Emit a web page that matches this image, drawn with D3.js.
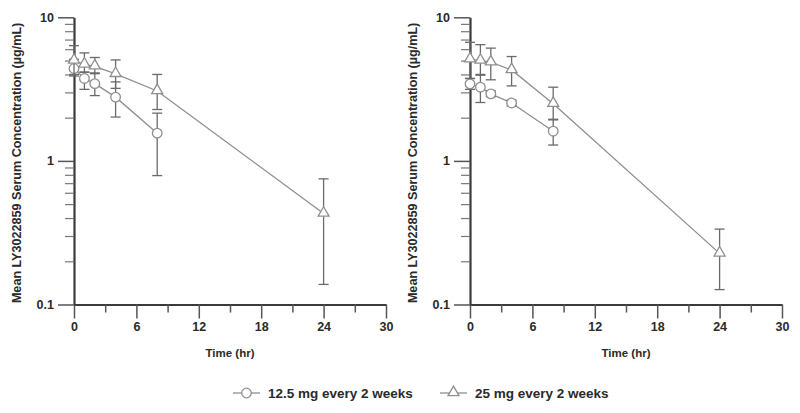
<!DOCTYPE html>
<html>
<head>
<meta charset="utf-8">
<script src="https://cdn.jsdelivr.net/npm/d3@7"></script>
<style>
  html, body { margin: 0; padding: 0; background: #fff; }
  svg { display: block; }
  text { font-family: "Liberation Sans", Arial, sans-serif; }
</style>
</head>
<body>
<svg id="chart" width="800" height="413"></svg>
<script>
// ---- Data ----
const times = [0, 1, 2, 4, 8, 24];
const seriesNames = ["12.5 mg every 2 weeks", "25 mg every 2 weeks"];
const panelNames = ["left", "right"];

// Left panel
const leftLowMean  = [4.4, 3.75, 3.45, 2.78, 1.56];
const leftLowLo    = [3.9, 3.15, 2.85, 2.02, 0.79];
const leftLowHi    = [5.1, 4.15, 4.05, 3.55, 2.15];
const leftHighMean = [5.0, 4.7, 4.56, 4.04, 3.07, 0.43];
const leftHighLo   = [4.0, 4.15, 4.1, 3.2, 2.28, 0.138];
const leftHighHi   = [6.35, 5.65, 5.25, 5.05, 4.0, 0.75];

// Right panel
const rightLowMean  = [3.44, 3.26, 2.93, 2.53, 1.61];
const rightLowLo    = [3.15, 2.55, 2.8, 2.42, 1.29];
const rightLowHi    = [3.75, 4.0, 3.08, 2.65, 1.93];
const rightHighMean = [5.1, 5.0, 4.87, 4.3, 2.5, 0.227];
const rightHighLo   = [3.75, 3.95, 3.67, 3.33, 1.95, 0.127];
const rightHighHi   = [6.7, 6.45, 6.1, 5.33, 3.26, 0.335];

const xMajorTicks = [0, 6, 12, 18, 24, 30];
const xMinorTicks = [3, 9, 15, 21, 27];
const yMajorTicks = [0.1, 1, 10];
const yMinorTicks = [0.2,0.3,0.4,0.5,0.6,0.7,0.8,0.9,2,3,4,5,6,7,8,9];
const xTitle = "Time (hr)";
const yTitle = "Mean LY3022859 Serum Concentration (\u00b5g/mL)";

function build(mean, lo, hi) {
  return mean.map((m, i) => ({ t: times[i], m, lo: lo[i], hi: hi[i] }));
}
const panels = [
  { x0: 74,  x1: 386, ylab: 17,
    low: build(leftLowMean, leftLowLo, leftLowHi),
    high: build(leftHighMean, leftHighLo, leftHighHi) },
  { x0: 470, x1: 782, ylab: 413,
    low: build(rightLowMean, rightLowLo, rightLowHi),
    high: build(rightHighMean, rightHighLo, rightHighHi) }
];

const svg = d3.select("#chart");
const yTop = 17.3, yBot = 304.5;
const lineCol = "#8f8f8f", errCol = "#6a6a6a", axisCol = "#3a3a3a", textCol = "#2a2a2a";

const triPath = d3.symbol().type(d3.symbolTriangle).size(52)();

function drawMarker(g, kind, x, y) {
  if (kind === "circle") {
    g.append("circle").attr("cx", x).attr("cy", y).attr("r", 4.8)
      .attr("fill", "#fff").attr("stroke", lineCol).attr("stroke-width", 1.3);
  } else {
    g.append("path").attr("d", triPath).attr("transform", `translate(${x},${y - 0.5})`)
      .attr("fill", "#fff").attr("stroke", lineCol).attr("stroke-width", 1.3);
  }
}

panels.forEach(p => {
  const x = d3.scaleLinear().domain([0, 30]).range([p.x0, p.x1]);
  const y = d3.scaleLog().domain([0.1, 10]).range([yBot, yTop]);
  const g = svg.append("g");

  // x axis: major
  const xa = g.append("g").attr("transform", `translate(0,${yBot})`)
    .call(d3.axisBottom(x).tickValues(xMajorTicks).tickSize(14).tickSizeOuter(0).tickPadding(4).tickFormat(d3.format("d")));
  xa.select(".domain").attr("stroke", axisCol).attr("stroke-width", 2);
  xa.selectAll(".tick line").attr("stroke", "#555").attr("stroke-width", 1.5);
  xa.selectAll(".tick text").attr("fill", textCol).attr("font-size", 12.5).attr("font-weight", "bold");
  // x axis: minor
  const xm = g.append("g").attr("transform", `translate(0,${yBot})`)
    .call(d3.axisBottom(x).tickValues(xMinorTicks).tickSize(8).tickFormat(""));
  xm.select(".domain").remove();
  xm.selectAll(".tick line").attr("stroke", "#555").attr("stroke-width", 1.5);

  // y axis: major
  const ya = g.append("g").attr("transform", `translate(${p.x0},0)`)
    .call(d3.axisLeft(y).tickValues(yMajorTicks).tickSize(16).tickSizeOuter(0).tickPadding(4)
      .tickFormat(d => d >= 1 ? d3.format("d")(d) : d3.format(".1f")(d)));
  ya.select(".domain").attr("stroke", axisCol).attr("stroke-width", 2.2);
  ya.selectAll(".tick line").attr("stroke", "#555").attr("stroke-width", 1.5);
  ya.selectAll(".tick text").attr("fill", textCol).attr("font-size", 12.5).attr("font-weight", "bold");
  // y axis: minor
  const ym = g.append("g").attr("transform", `translate(${p.x0},0)`)
    .call(d3.axisLeft(y).tickValues(yMinorTicks).tickSize(9).tickFormat(""));
  ym.select(".domain").remove();
  ym.selectAll(".tick line").attr("stroke", "#777").attr("stroke-width", 1.2);

  // titles
  g.append("text").attr("x", (p.x0 + p.x1) / 2).attr("y", 357).attr("text-anchor", "middle")
    .attr("fill", textCol).attr("font-size", 11.5).attr("font-weight", "bold").text(xTitle);
  g.append("text").attr("transform", `translate(${p.ylab},${(yTop + yBot) / 2 + 2}) rotate(-90)`)
    .attr("text-anchor", "middle").attr("dominant-baseline", "central")
    .attr("fill", textCol).attr("font-size", 12.6).attr("font-weight", "bold").text(yTitle);

  const line = d3.line().x(d => x(d.t)).y(d => y(d.m));

  [["low", "circle"], ["high", "triangle"]].forEach(([key, kind]) => {
    const data = p[key];
    g.append("path").datum(data).attr("d", line).attr("fill", "none")
      .attr("stroke", lineCol).attr("stroke-width", 1.3);
    // error bars
    data.forEach(d => {
      const cx = x(d.t);
      g.append("line").attr("x1", cx).attr("x2", cx).attr("y1", y(d.lo)).attr("y2", y(d.hi))
        .attr("stroke", errCol).attr("stroke-width", 1.3);
      [d.lo, d.hi].forEach(v => {
        g.append("line").attr("x1", cx - 5).attr("x2", cx + 5).attr("y1", y(v)).attr("y2", y(v))
          .attr("stroke", errCol).attr("stroke-width", 1.3);
      });
    });
    data.forEach(d => drawMarker(g, kind, x(d.t), y(d.m)));
  });
});

// legend
const leg = svg.append("g");
const legY = 393;
const legItems = [
  { name: seriesNames[0], kind: "circle", x: 233 },
  { name: seriesNames[1], kind: "triangle", x: 440 }
];
legItems.forEach(it => {
  leg.append("line").attr("x1", it.x).attr("x2", it.x + 27).attr("y1", legY).attr("y2", legY)
    .attr("stroke", lineCol).attr("stroke-width", 1.3);
  drawMarker(leg, it.kind, it.x + 13.5, legY);
  leg.append("text").attr("x", it.x + 35).attr("y", legY).attr("dominant-baseline", "central")
    .attr("fill", textCol).attr("font-size", 13.5).attr("font-weight", "bold").text(it.name);
});
</script>
</body>
</html>
